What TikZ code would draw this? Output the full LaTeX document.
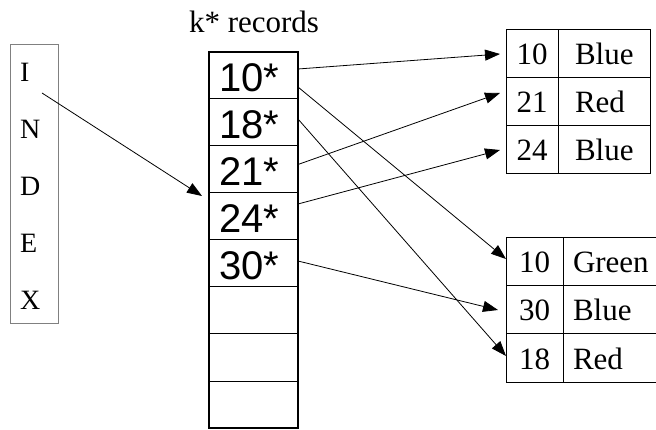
\documentclass[tikz,border=0pt]{standalone}
\usepackage{fontspec}
\setmainfont{Liberation Serif}
\newfontfamily\slotfont{Liberation Sans}
\usetikzlibrary{arrows.meta,positioning}

\tikzset{
  slot/.style={draw, line width=1pt, outer sep=0pt, minimum width=89pt, minimum height=47pt,
    inner xsep=10pt, inner ysep=0pt, text width=69pt, align=left,
    text height=32pt, text depth=0pt, font=\slotfont\fontsize{40}{40}\selectfont},
  keycell/.style={draw, line width=1pt, outer sep=0pt, minimum height=48pt, inner sep=0pt,
    text height=22pt, text depth=0pt, font=\fontsize{31}{31}\selectfont},
  valcell/.style={keycell, align=left},
  letter/.style={anchor=base west, inner sep=0pt, font=\fontsize{28}{28}\selectfont},
  link/.style={-{Triangle[length=15pt,width=11pt]}, line width=0.8pt},
}

\begin{document}
\begin{tikzpicture}[x=1pt, y=-1pt]
        \useasboundingbox (0,0) rectangle (656,430);

        % index block
        \node[draw=gray, line width=1pt, minimum width=48pt, minimum height=279pt] (index) at (34,184.5) {};
        \foreach \c [count=\i] in {I,N,D,E,X}
            \node[letter] (l\i) at (20,25+57*\i) {\c};

        % k* records column
        \node[anchor=base, font=\fontsize{31}{31}\selectfont] (title) at (254,33) {k* records};
        \foreach \t [count=\i] in {10*,18*,21*,24*,30*,{},{},{}}
            \node[slot] (r\i) at (253.5,28.5+47*\i) {\t};
        \draw[line width=2pt] (r1.north west) rectangle (r8.south east);

        % data records
        \foreach \k/\v [count=\i] in {10/Blue,21/Red,24/Blue} {
            \node[keycell, minimum width=52pt] (tk\i) at (532,6+48*\i) {\k};
            \node[valcell, inner xsep=17pt, text width=58pt] (tv\i) at (604,6+48*\i) {\v};
        }
        \foreach \k/\v [count=\i] in {10/Green,30/Blue,18/Red} {
            \node[keycell, minimum width=57pt] (bk\i) at (534.5,214+48*\i) {\k};
            \node[valcell, inner xsep=10pt, text width=87pt] (bv\i) at (616.5,214+48*\i) {\v};
        }

        % pointers
        \draw[link] (42,93) -- ([xshift=-7pt,yshift=20.5pt]r4.west);
        \draw[link] ([yshift=6.5pt]r1.east) -- ([xshift=-6pt]tk1.west);
        \draw[link] ([yshift=-11.5pt]r1.east) -- ([yshift=3pt]bk1.west);
        \draw[link] ([yshift=3.5pt]r2.east) -- ([yshift=2pt]bk3.west);
        \draw[link] ([yshift=5pt]r3.east) -- ([xshift=-6pt,yshift=9pt]tk2.west);
        \draw[link] ([yshift=12.5pt]r4.east) -- ([xshift=-6pt]tk3.west);
        \draw[link] ([yshift=2.5pt]r5.east) -- ([xshift=-8pt]bk2.west);
    \end{tikzpicture}
\end{document}
